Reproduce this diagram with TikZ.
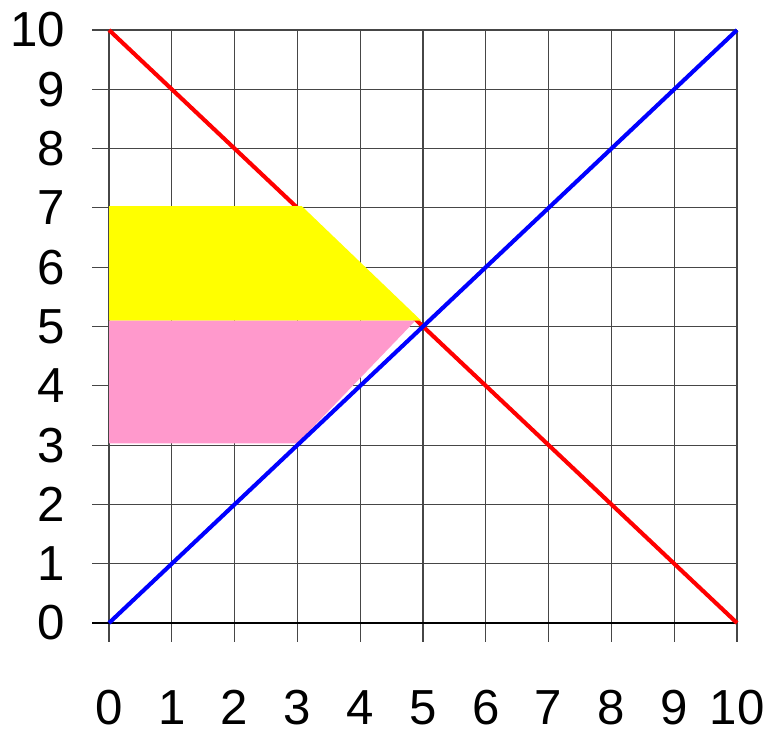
\documentclass[tikz,border=0pt]{standalone}
\usepackage{fontspec}
\setmainfont{Liberation Sans}
\definecolor{pinkfill}{RGB}{255,153,204}
\definecolor{yellowfill}{RGB}{255,255,0}
\definecolor{pureRed}{RGB}{255,0,0}
\definecolor{pureBlue}{RGB}{0,0,255}
\definecolor{gridgray}{RGB}{70,70,70}
\begin{document}
\begin{tikzpicture}[x=1.884cm,y=1.779cm,
  gridline/.style={gridgray,line width=1.0pt},
  axisline/.style={black,line width=1.1pt},
  redline/.style={pureRed,line width=3.5pt},
  blueline/.style={pureBlue,line width=3.5pt},
  lbl/.style={font=\fontsize{42}{42}\selectfont,inner sep=0pt}]
\useasboundingbox (-1.736,-1.906) rectangle (10.557,10.506);
% grid
\foreach \i in {0,...,10}{
  \draw[gridline] (\i,-0.32) -- (\i,10);
  \draw[gridline] (-0.27,\i) -- (10,\i);
}
\draw[axisline] (-0.27,0) -- (10,0);
% labels
\foreach \i in {0,...,10}{
  \node[lbl,anchor=east] (y\i) at (-0.70,\i) {\i};
  \node[lbl] (x\i) at (\i,-1.43) {\i};
}
% points
\coordinate (o) at (0,0);
\coordinate (tl) at (0,10);
\coordinate (br) at (10,0);
\coordinate (tr) at (10,10);
% red line
\draw[redline] (tl) -- (br);
% fills
\fill[yellowfill] (0,5.1) -- (0,7.03) -- (3.07,7.03) -- (4.97,5.1) -- cycle;
\fill[pinkfill] (0,3.03) -- (3.0,3.03) -- (4.88,5.1) -- (0,5.1) -- cycle;
% blue line
\draw[blueline] (o) -- (tr);
\end{tikzpicture}
\end{document}
